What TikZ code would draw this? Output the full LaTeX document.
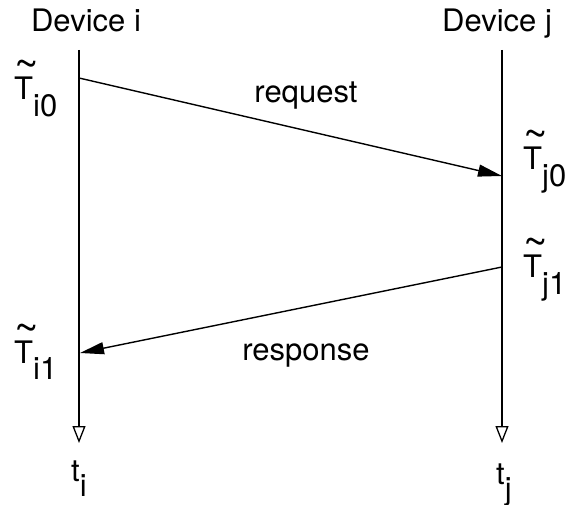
\documentclass[tikz,border=0pt]{standalone}
\usepackage{fontspec}
\setmainfont{TeX Gyre Heros}
\usetikzlibrary{arrows.meta}
% timestamp label: T with a tilde above and a lowered subscript of equal size
\newcommand{\stamp}[1]{\rlap{\hspace{0.5pt}\smash{\raisebox{21pt}{\fontsize{42}{42}\selectfont\char"7E}}}T\raisebox{-0.52em}{#1}}
\newcommand{\tick}[1]{t\raisebox{-0.5em}{#1}}
\tikzset{
  lbl/.style={inner sep=0pt, font=\fontsize{31}{36}\selectfont},
  timeline/.style={line width=1.4pt, -{Triangle[open, length=17pt, width=13pt, line width=1.3pt]}},
  msg/.style={line width=1.4pt, -{Triangle[length=24pt, width=12pt]}}
}
\begin{document}
\begin{tikzpicture}[x=1pt, y=-1pt]
\useasboundingbox (0,0) rectangle (568,505);
% device headers
\node[lbl, anchor=base] (devi) at (86,32) {Device i};
\node[lbl, anchor=base] (devj) at (497,32) {Device j};
% time axes
\coordinate (itop) at (79,50);
\coordinate (ibot) at (79,443);
\coordinate (jtop) at (502,50);
\coordinate (jbot) at (502,443);
\draw[timeline] (itop) -- (ibot);
\draw[timeline] (jtop) -- (jbot);
% message end points
\coordinate (si0) at (79,78);
\coordinate (sj0) at (502,176);
\coordinate (sj1) at (502,267);
\coordinate (si1) at (80,353);
\draw[msg] (si0) -- (sj0);
\draw[msg] (sj1) -- (si1);
\node[lbl, anchor=base] (req) at (306,103) {request};
\node[lbl, anchor=base] (resp) at (306,360) {response};
% timestamps
\node[lbl, anchor=base west] (ti0) at (14,100) {\stamp{i0}};
\node[lbl, anchor=base west] (tj0) at (523,170) {\stamp{j0}};
\node[lbl, anchor=base west] (tj1) at (523,278) {\stamp{j1}};
\node[lbl, anchor=base west] (ti1) at (14,363) {\stamp{i1}};
% axis names
\node[lbl, anchor=base west] (ti) at (71,481) {\tick{i}};
\node[lbl, anchor=base west] (tj) at (496,484) {\tick{j}};
\end{tikzpicture}
\end{document}
